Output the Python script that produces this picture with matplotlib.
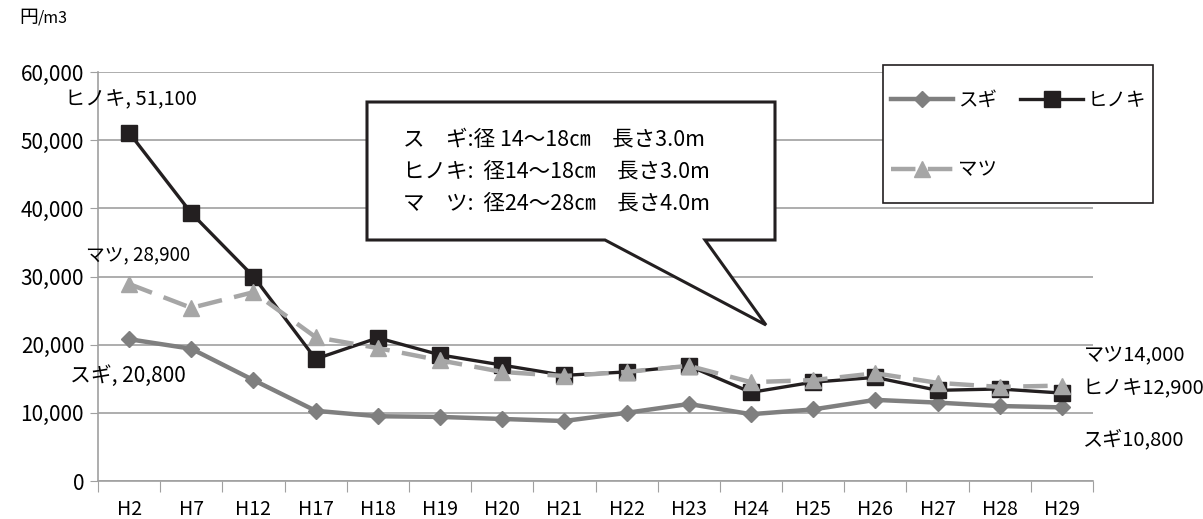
import matplotlib
matplotlib.use('Agg')
import matplotlib.pyplot as plt
from matplotlib.patches import Polygon, Rectangle
import numpy as np

plt.rcParams['font.family'] = ['Noto Sans CJK JP', 'DejaVu Sans']

# --- données ---
annees = ['H2', 'H7', 'H12', 'H17', 'H18', 'H19', 'H20', 'H21',
          'H22', 'H23', 'H24', 'H25', 'H26', 'H27', 'H28', 'H29']
sugi = [20800, 19400, 14800, 10300, 9500, 9400, 9100, 8800,
        10000, 11300, 9800, 10500, 11900, 11500, 11000, 10800]
hinoki = [51100, 39300, 30000, 17900, 21000, 18500, 17000, 15500,
          16000, 16900, 13000, 14500, 15200, 13300, 13500, 12900]
matsu = [28900, 25400, 27700, 21100, 19500, 17700, 16000, 15400,
         16000, 16900, 14500, 14800, 15800, 14400, 13800, 14000]
noms = ['スギ', 'ヒノキ', 'マツ']
bulle = ['ス　ギ:径 14～18㎝　長さ3.0m',
         'ヒノキ:  径14～18㎝　長さ3.0m',
         'マ　ツ:  径24～28㎝　長さ4.0m']

W, H = 1203, 519
fig = plt.figure(figsize=(W / 100, H / 100), dpi=100)
ax = fig.add_axes([98 / W, 1 - 481 / H, (1093 - 98) / W, (481 - 72) / H])

x = np.arange(len(annees))
l_sugi, = ax.plot(x, sugi, color='#7f7f7f', lw=3.2, marker='D', ms=8,
                  zorder=3)
l_hin, = ax.plot(x, hinoki, color='#231f20', lw=2.4, marker='s', ms=11,
                 zorder=4)
l_mat, = ax.plot(x, matsu, color='#a6a6a6', lw=3.2, marker='^', ms=11,
                 dashes=(5.5, 2.8), zorder=5)

ax.set_xlim(-0.5, len(annees) - 0.5)
ax.set_ylim(0, 60000)
ax.set_yticks(np.arange(0, 60001, 10000))
ax.set_yticklabels([f'{v:,}' for v in range(0, 60001, 10000)], fontsize=15)
ax.yaxis.grid(True, color='#a0a0a0', lw=1.2)
ax.set_axisbelow(True)
ax.tick_params(axis='y', length=6, color='#a0a0a0', pad=4)

# ticks aux limites, étiquettes au centre
ax.set_xticks(np.arange(-0.5, len(annees), 1))
ax.set_xticklabels([])
ax.set_xticks(x, minor=True)
ax.set_xticklabels(annees, minor=True, fontsize=14)
ax.tick_params(axis='x', which='major', length=8, color='#a0a0a0')
ax.tick_params(axis='x', which='minor', length=0, pad=13)

for s in ['top', 'right']:
    ax.spines[s].set_visible(False)
for s in ['left', 'bottom']:
    ax.spines[s].set_color('#a0a0a0')
    ax.spines[s].set_linewidth(1.2)

# étiquettes de données
fig.text(65 / W, 1 - 100 / H, f'{noms[1]}, {hinoki[0]:,}',
         va='center', fontsize=14.5)
fig.text(86 / W, 1 - 255 / H, f'{noms[2]}, {matsu[0]:,}',
         va='center', fontsize=13.5)
fig.text(70 / W, 1 - 376 / H, f'{noms[0]}, {sugi[0]:,}',
         va='center', fontsize=15)
fig.text(1084 / W, 1 - 355 / H, f'{noms[2]}{matsu[-1]:,}',
         va='center', fontsize=14.5)
fig.text(1082 / W, 1 - 389 / H, f'{noms[1]}{hinoki[-1]:,}',
         va='center', fontsize=14.5)
fig.text(1083 / W, 1 - 440 / H, f'{noms[0]}{sugi[-1]:,}',
         va='center', fontsize=14.5)

# unité
fig.text(19 / W, 1 - 18 / H, '円', fontsize=13.5, va='center')
fig.text(38 / W, 1 - 18 / H, '/m3', fontsize=11.5, va='center')

# bulle
pts = [(367, 102), (775, 102), (775, 240), (705, 240), (766, 325),
       (605, 240), (367, 240)]
bulle_poly = Polygon([(px / W, 1 - py / H) for px, py in pts], closed=True,
                     transform=fig.transFigure, facecolor='white',
                     edgecolor='#231f20', lw=2.2, zorder=10)
fig.patches.append(bulle_poly)
for i, ligne in enumerate(bulle):
    fig.text(403 / W, 1 - (140 + 32 * i) / H, ligne, fontsize=15.5,
             va='center', zorder=11)

# légende : cadre dessiné à part
cadre = Rectangle((883 / W, 1 - 203 / H), 270 / W, 138 / H,
                  transform=fig.transFigure, facecolor='white',
                  edgecolor='#231f20', lw=1.2, zorder=10)
fig.patches.append(cadre)
leg = fig.legend([l_sugi, l_mat, l_hin], [noms[0], noms[2], noms[1]],
                 ncol=2, loc='upper left',
                 bbox_to_anchor=(891 / W, 1 - 90 / H),
                 fontsize=14, frameon=False, handlelength=3.2,
                 labelspacing=2.5, borderpad=0, borderaxespad=0,
                 columnspacing=1.2, handletextpad=0.25)
leg.set_zorder(11)

fig.savefig('out.png', dpi=100)
